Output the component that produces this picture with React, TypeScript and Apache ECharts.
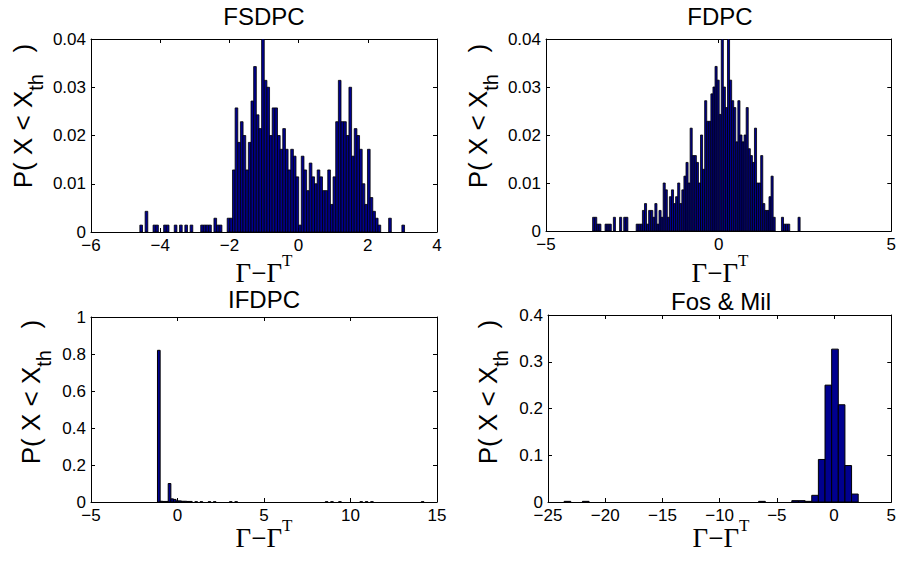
import React, { useEffect, useRef } from "react";
import * as echarts from "echarts";

// ---------------- DATA ----------------
// Histogram bar heights are sample counts out of N_SAMPLES (P = count / N_SAMPLES)
const N_SAMPLES = 700;

// FSDPC: 100 equal bins, first bin centre and bin width
const fsdpcFirstCenter = -4.55;
const fsdpcBinWidth = 0.0765;
const fsdpcCounts = [
  1, 0, 3, 0, 0, 1, 1, 0, 0, 1,
  1, 0, 0, 1, 0, 1, 0, 1, 0, 1,
  0, 0, 0, 1, 1, 1, 1, 0, 2, 1,
  1, 0, 0, 2, 2, 9, 18, 13, 16, 14,
  9, 13, 19, 24, 17, 15, 28, 22, 21, 14,
  18, 18, 14, 12, 15, 12, 9, 12, 11, 8,
  1, 11, 9, 6, 10, 8, 7, 9, 8, 6,
  6, 9, 4, 8, 16, 22, 16, 16, 14, 21,
  11, 15, 14, 12, 7, 4, 12, 5, 3, 2,
  1, 0, 0, 0, 2, 0, 0, 0, 0, 1,
];

// FDPC: 100 equal bins
const fdpcFirstCenter = -3.62;
const fdpcBinWidth = 0.0601;
const fdpcCounts = [
  2, 2, 1, 1, 0, 0, 1, 1, 1, 0,
  2, 0, 0, 2, 0, 2, 2, 0, 0, 0,
  0, 1, 1, 1, 3, 4, 1, 3, 3, 2,
  4, 1, 3, 2, 7, 6, 2, 5, 6, 4,
  5, 7, 4, 6, 8, 10, 7, 15, 11, 11,
  10, 7, 14, 9, 19, 16, 16, 20, 21, 24,
  22, 17, 28, 21, 18, 28, 22, 19, 18, 13,
  19, 14, 13, 14, 18, 12, 11, 10, 15, 7,
  7, 11, 4, 3, 3, 5, 8, 2, 0, 0,
  0, 2, 1, 1, 1, 0, 0, 0, 0, 2,
];

// IFDPC: non-empty bins only (centre, probability)
const ifdpcBinWidth = 0.154;
const ifdpcCenters = [
  -1.08, -0.93, -0.77, -0.62, -0.46, -0.31, -0.16, 0.0, 0.15, 0.31, 0.46,
  0.62, 0.77, 1.08, 1.38, 1.85, 2.15, 3.08, 3.39, 8.62, 8.93, 9.39, 10.62,
  10.93, 11.24, 14.17,
];
const ifdpcValues = [
  0.82, 0.004, 0.003, 0.003, 0.1, 0.017, 0.014, 0.006, 0.006, 0.004, 0.004,
  0.003, 0.003, 0.0014, 0.0014, 0.0014, 0.0014, 0.0014, 0.0014, 0.0014,
  0.0014, 0.0014, 0.0014, 0.0014, 0.0014, 0.0014,
];

// Fos & Mil: non-empty bins only (centre, probability)
const fosBinWidth = 0.58;
const fosCenters = [
  -23.3, -21.7, -6.3, -3.4, -2.82, -2.24, -1.66, -1.08, -0.5, 0.08, 0.66,
  1.24, 1.82,
];
const fosValues = [
  0.0014, 0.0014, 0.0014, 0.0029, 0.0029, 0.0014, 0.0143, 0.091, 0.25, 0.327,
  0.208, 0.078, 0.017,
];

const titles = ["FSDPC", "FDPC", "IFDPC", "Fos & Mil"];
// axis ranges: [min, max, interval]
const xRanges = [
  [-6, 4, 2],
  [-5, 5, 5],
  [-5, 15, 5],
  [-25, 5, 5],
];
const yRanges = [
  [0, 0.04, 0.01],
  [0, 0.04, 0.01],
  [0, 1, 0.2],
  [0, 0.4, 0.1],
];

// ---------------- STYLE / LAYOUT ----------------
const SANS = "'Liberation Sans', Arial, Helvetica, sans-serif";
const SERIF = "'Liberation Serif', 'Times New Roman', serif";
const BAR_FILL = "#00008F";
const BAR_EDGE = "#000000";

const grids = [
  { left: 91, top: 39, width: 346, height: 193 },
  { left: 546, top: 39, width: 348, height: 192 },
  { left: 91, top: 317, width: 346, height: 185 },
  { left: 548, top: 315, width: 346, height: 187 },
];
const titlePos = [
  [264, 16],
  [720, 16],
  [264, 299],
  [721, 301],
];
const yLabelPos = [
  [27.7, 116],
  [482.5, 116],
  [36.4, 392],
  [493, 392],
];
const xLabelPos = [
  [264, 269],
  [720, 269],
  [264, 534],
  [721, 534],
];
const edgeWidths = [0.8, 0.8, 1, 1];

function minusFmt(v: number): string {
  return v < 0 ? "\u2212" + Math.abs(v) : String(v);
}

function makeRender(binWidth: number, lineWidth: number) {
  return (_params: any, api: any) => {
    const c = api.value(0);
    const v = api.value(1);
    const p0 = api.coord([c - binWidth / 2, v]);
    const p1 = api.coord([c + binWidth / 2, 0]);
    return {
      type: "rect",
      shape: { x: p0[0], y: p0[1], width: p1[0] - p0[0], height: p1[1] - p0[1] },
      style: { fill: BAR_FILL, stroke: BAR_EDGE, lineWidth },
    };
  };
}

function buildOption() {
  const panelData: number[][][] = [
    fsdpcCounts
      .map((n, i) => [fsdpcFirstCenter + i * fsdpcBinWidth, n / N_SAMPLES])
      .filter((d) => d[1] > 0),
    fdpcCounts
      .map((n, i) => [fdpcFirstCenter + i * fdpcBinWidth, n / N_SAMPLES])
      .filter((d) => d[1] > 0),
    ifdpcCenters.map((c, i) => [c, ifdpcValues[i]]),
    fosCenters.map((c, i) => [c, fosValues[i]]),
  ];
  const binWidths = [fsdpcBinWidth, fdpcBinWidth, ifdpcBinWidth, fosBinWidth];

  const axisLine = { show: true, onZero: false, lineStyle: { color: "#000", width: 1 } };
  const axisTick = { show: true, inside: true, length: 4, lineStyle: { color: "#000", width: 1 } };
  const labelStyle = { color: "#000", fontSize: 17, fontFamily: SANS, margin: 5 };

  const xAxis: any[] = [];
  const yAxis: any[] = [];
  const series: any[] = [];
  const graphic: any[] = [];

  for (let i = 0; i < 4; i++) {
    const [xmin, xmax, xint] = xRanges[i];
    const [ymin, ymax, yint] = yRanges[i];
    xAxis.push({
      type: "value", gridIndex: i, position: "bottom", min: xmin, max: xmax, interval: xint,
      axisLine, axisTick, splitLine: { show: false },
      axisLabel: { ...labelStyle, formatter: minusFmt },
    });
    xAxis.push({
      type: "value", gridIndex: i, position: "top", min: xmin, max: xmax, interval: xint,
      axisLine, axisTick, splitLine: { show: false }, axisLabel: { show: false },
    });
    yAxis.push({
      type: "value", gridIndex: i, position: "left", min: ymin, max: ymax, interval: yint,
      axisLine, axisTick, splitLine: { show: false }, axisLabel: { ...labelStyle },
    });
    yAxis.push({
      type: "value", gridIndex: i, position: "right", min: ymin, max: ymax, interval: yint,
      axisLine, axisTick, splitLine: { show: false }, axisLabel: { show: false },
    });
    series.push({
      type: "custom",
      name: titles[i],
      xAxisIndex: 2 * i,
      yAxisIndex: 2 * i,
      data: panelData[i],
      clip: true,
      renderItem: makeRender(binWidths[i], edgeWidths[i]),
    });
    // y label  P( X < X_th )  (subscript pushed down with top padding)
    graphic.push({
      type: "text",
      x: yLabelPos[i][0],
      y: yLabelPos[i][1],
      rotation: Math.PI / 2,
      style: {
        text: "{m|P( X < X}{s|th}{m|   )}",
        align: "center",
        verticalAlign: "middle",
        rich: {
          m: { fontSize: 26, fontFamily: SANS, fill: "#000", verticalAlign: "top" },
          s: { fontSize: 20, fontFamily: SANS, fill: "#000", verticalAlign: "top", padding: [16, 0, 0, 0] },
        },
      },
    });
    // x label  Γ−Γ^T  (main text pushed down so the T is raised)
    graphic.push({
      type: "text",
      x: xLabelPos[i][0],
      y: xLabelPos[i][1],
      style: {
        text: "{m|\u0393\u2212\u0393}{s|T}",
        align: "center",
        verticalAlign: "middle",
        rich: {
          m: { fontSize: 27, fontFamily: SERIF, fill: "#000", verticalAlign: "top", padding: [7, 0, 0, 0] },
          s: { fontSize: 17, fontFamily: SERIF, fill: "#000", verticalAlign: "top" },
        },
      },
    });
  }

  const title = titles.map((t, i) => ({
    text: t,
    left: titlePos[i][0],
    top: titlePos[i][1],
    textAlign: "center",
    textVerticalAlign: "middle",
    padding: 0,
    textStyle: { fontSize: 24, fontWeight: "normal", color: "#000", fontFamily: SANS },
  }));

  return {
    animation: false,
    backgroundColor: "#ffffff",
    title,
    grid: grids.map((g) => ({ ...g, containLabel: false })),
    xAxis,
    yAxis,
    series,
    graphic,
  };
}

export default function App() {
  const ref = useRef<HTMLDivElement>(null);
  useEffect(() => {
    document.body.style.margin = "0";
    if (!ref.current) return;
    const chart = echarts.init(ref.current, undefined, { renderer: "svg" });
    chart.setOption(buildOption() as any);
    return () => {
      chart.dispose();
    };
  }, []);
  return <div ref={ref} style={{ width: 899, height: 561 }} />;
}
